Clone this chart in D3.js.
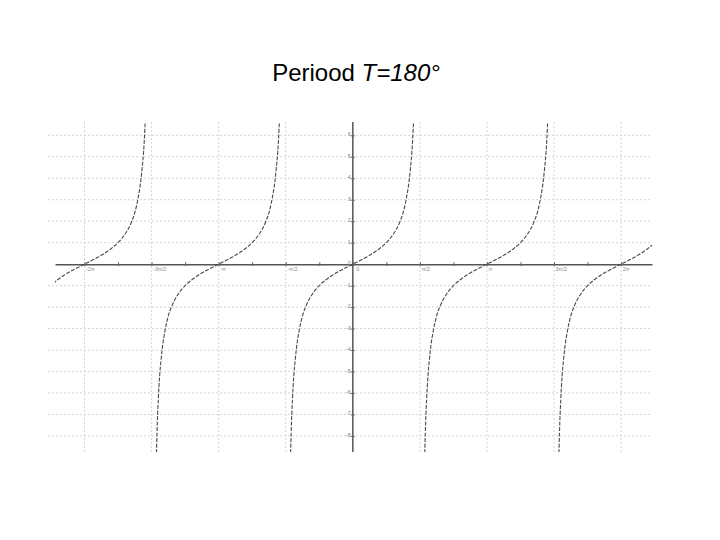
<!DOCTYPE html>
<html>
<head>
<meta charset="utf-8">
<script src="https://cdn.jsdelivr.net/npm/d3@7"></script>
<style>
body { margin: 0; background: #fff; }
svg { display: block; }
</style>
</head>
<body>
<svg width="720" height="540"></svg>
<script>
// x values are in units of pi
var xTicks = [-2, -1.5, -1, -0.5, 0, 0.5, 1, 1.5, 2];
var xTickLabels = ["-2π", "-3π/2", "-π", "-π/2", "0", "π/2", "π", "3π/2", "2π"];
var xMinorTicks = [-1.75, -1.25, -0.75, -0.25, 0.25, 0.75, 1.25, 1.75];
var yTicks = [6, 5, 4, 3, 2, 1, 0, -1, -2, -3, -4, -5, -6, -7, -8];
var yTickLabels = ["6", "5", "4", "3", "2", "1", "0", "-1", "-2", "-3", "-4", "-5", "-6", "-7", "-8"];

var branchCenters = [-2, -1, 0, 1, 2];
var branchOffsets = [-0.47, -0.46, -0.45, -0.44, -0.43, -0.42, -0.4, -0.375, -0.35, -0.3, -0.25, -0.2, -0.15, -0.1, -0.05, 0,
                     0.05, 0.1, 0.15, 0.2, 0.25, 0.3, 0.35, 0.375, 0.4, 0.42, 0.43, 0.44, 0.45, 0.46, 0.47];
var branchValues = [-10.6, -7.9, -6.3, -5.2, -4.5, -3.9, -3.1, -2.4, -1.96, -1.38, -1, -0.73, -0.51, -0.32, -0.16, 0,
                    0.16, 0.32, 0.51, 0.73, 1, 1.38, 1.96, 2.4, 3.1, 3.9, 4.5, 5.2, 6.3, 7.9, 10.6];

var svg = d3.select("svg");

var plotLeft = 55, plotRight = 652, plotTop = 122, plotBottom = 452;

var x = d3.scaleLinear().domain([-2.22, 2.23]).range([plotLeft, plotRight]);
var y = d3.scaleLinear().domain([6.62, -8.75]).range([plotTop, plotBottom]);

// title
var title = svg.append("text")
	.attr("x", 356)
	.attr("y", 81)
	.attr("text-anchor", "middle")
	.style("font-family", "'Liberation Sans', Arial, sans-serif")
	.style("font-size", "24px")
	.style("fill", "#000");
title.append("tspan").text("Periood ");
title.append("tspan").style("font-style", "italic").text("T=180°");

// grid
var grid = svg.append("g").attr("class", "grid");

grid.selectAll(".hgrid")
	.data(yTicks.filter(function(d) { return d != 0; }))
	.enter()
	.append("line")
	.attr("x1", plotLeft - 7)
	.attr("x2", plotRight)
	.attr("y1", function(d) { return y(d); })
	.attr("y2", function(d) { return y(d); })
	.style("stroke", "#d6d6d6")
	.style("stroke-width", 1)
	.style("stroke-dasharray", "2,2");

grid.selectAll(".vgrid")
	.data(xTicks.filter(function(d) { return d != 0; }))
	.enter()
	.append("line")
	.attr("x1", function(d) { return x(d); })
	.attr("x2", function(d) { return x(d); })
	.attr("y1", plotTop)
	.attr("y2", plotBottom)
	.style("stroke", "#d6d6d6")
	.style("stroke-width", 1)
	.style("stroke-dasharray", "2,2");

// axes
var xAxis = svg.append("g")
	.attr("transform", "translate(0," + y(0) + ")")
	.call(d3.axisBottom(x)
		.tickValues(xTicks.concat(xMinorTicks))
		.tickSize(2)
		.tickSizeOuter(0)
		.tickFormat(function(d) {
			var i = xTicks.indexOf(d);
			return i >= 0 ? xTickLabels[i] : "";
		}));
xAxis.select(".domain").style("stroke", "#555").style("stroke-width", 1.5);
xAxis.selectAll(".tick line").attr("y1", -2).style("stroke", "#666");
xAxis.selectAll(".tick text")
	.attr("text-anchor", "start")
	.attr("x", 1)
	.attr("y", 3)
	.style("font-family", "'Liberation Sans', Arial, sans-serif")
	.style("font-size", "5.5px")
	.style("fill", "#888");
xAxis.selectAll(".tick").filter(function(d) { return d == 0; }).select("text").attr("x", 3);

var yAxis = svg.append("g")
	.attr("transform", "translate(" + x(0) + ",0)")
	.call(d3.axisLeft(y)
		.tickValues(yTicks)
		.tickSize(2)
		.tickSizeOuter(0)
		.tickFormat(function(d) { return yTickLabels[yTicks.indexOf(d)]; }));
yAxis.select(".domain")
	.attr("d", "M0," + plotTop + "V" + plotBottom)
	.style("stroke", "#555")
	.style("stroke-width", 1.5);
yAxis.selectAll(".tick line").attr("x2", 2).attr("x1", -2).style("stroke", "#666");
yAxis.selectAll(".tick text")
	.attr("x", -2)
	.attr("dy", "0.1em")
	.style("font-family", "'Liberation Sans', Arial, sans-serif")
	.style("font-size", "5.5px")
	.style("fill", "#888");

// curve
svg.append("clipPath")
	.attr("id", "plot")
	.append("rect")
	.attr("x", plotLeft)
	.attr("y", plotTop)
	.attr("width", plotRight - plotLeft)
	.attr("height", plotBottom - plotTop);

var line = d3.line()
	.x(function(d) { return x(d[0]); })
	.y(function(d) { return y(d[1]); })
	.curve(d3.curveMonotoneX);

var branches = branchCenters.map(function(c) {
	return branchOffsets.map(function(o, i) { return [c + o, branchValues[i]]; });
});

svg.append("g")
	.attr("clip-path", "url(#plot)")
	.selectAll(".branch")
	.data(branches)
	.enter()
	.append("path")
	.attr("class", "branch")
	.attr("d", line)
	.style("fill", "none")
	.style("stroke", "#4a4a4a")
	.style("stroke-width", 1.1)
	.style("stroke-dasharray", "4,1.5");
</script>
</body>
</html>
